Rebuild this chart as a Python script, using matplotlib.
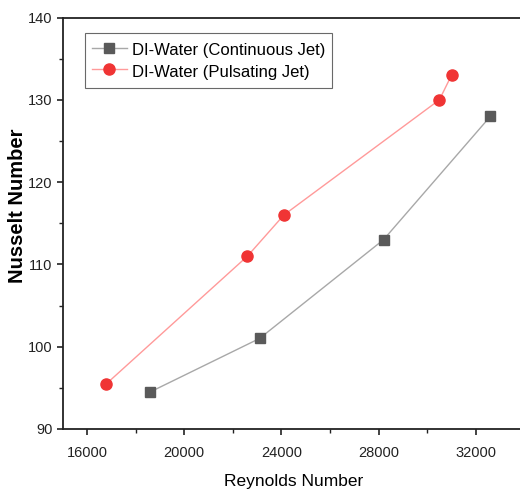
import matplotlib
matplotlib.use("Agg")
import matplotlib.pyplot as plt
from matplotlib.ticker import MultipleLocator

plt.rcParams['font.family'] = ['Liberation Sans', 'DejaVu Sans']

# Continuous jet
re_cont = [18600, 23100, 28200, 32600]
nu_cont = [94.5, 101, 113, 128]

# Pulsating jet
re_puls = [16800, 22600, 24100, 30500, 31000]
nu_puls = [95.5, 111, 116, 130, 133]

x_ticks = [16000, 20000, 24000, 28000, 32000]
y_ticks = [90, 100, 110, 120, 130, 140]

fig = plt.figure(figsize=(5.2, 4.96), dpi=100)
ax = fig.add_axes([0.1206, 0.1351, 0.888, 0.8296])

ax.plot(re_cont, nu_cont, color='#a8a8a8', lw=1.0, marker='s', ms=7,
        mfc='#5a5a5a', mec='#5a5a5a', label='DI-Water (Continuous Jet)')
ax.plot(re_puls, nu_puls, color='#ff9a9a', lw=1.0, marker='o', ms=8,
        mfc='#f03434', mec='#f03434', label='DI-Water (Pulsating Jet)')

ax.set_xlim(15000, 34000)
ax.set_ylim(90, 140)
ax.set_xticks(x_ticks)
ax.set_yticks(y_ticks)
ax.xaxis.set_minor_locator(MultipleLocator(2000))
ax.yaxis.set_minor_locator(MultipleLocator(5))

for s in ax.spines.values():
    s.set_linewidth(1.3)
    s.set_color('#222222')

ax.tick_params(which='major', direction='out', length=4.5, width=1.2,
               labelsize=10.5, colors='#222222', pad=3)
ax.tick_params(which='minor', direction='out', length=3, width=1.0,
               colors='#222222')
ax.tick_params(axis='x', pad=8)

ax.set_xlabel('Reynolds Number', fontsize=12.5, labelpad=10)
ax.set_ylabel('Nusselt Number', fontsize=14.5, fontweight='bold')
ax.yaxis.set_label_coords(-0.078, 0.542)

leg = ax.legend(loc='upper left', bbox_to_anchor=(0.048, 0.962),
                borderaxespad=0, fontsize=12,
                frameon=True, fancybox=False, edgecolor='#444444',
                handlelength=2.15, handleheight=1.45, borderpad=0.4,
                labelspacing=0.1, handletextpad=0.3)
leg.get_frame().set_linewidth(0.8)

fig.savefig('out.png', dpi=100)
